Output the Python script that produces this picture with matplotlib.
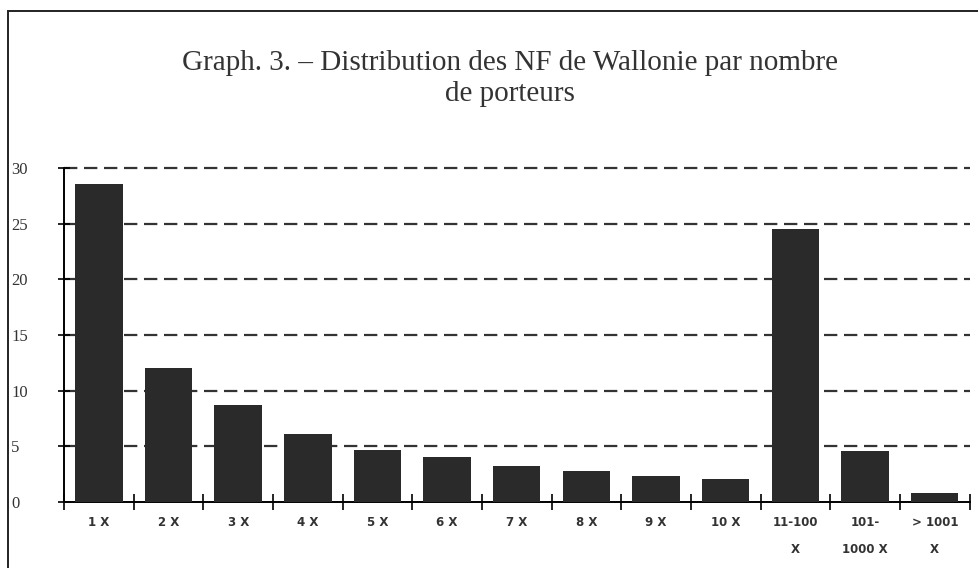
import matplotlib.pyplot as plt
from matplotlib.patches import Rectangle
import numpy as np

# Data
categories = ["1 X", "2 X", "3 X", "4 X", "5 X", "6 X", "7 X", "8 X", "9 X",
              "10 X", "11-100\nX", "101-\n1000 X", "> 1001\nX"]
values = [28.6, 12.0, 8.7, 6.1, 4.7, 4.0, 3.2, 2.8, 2.3, 2.1, 24.5, 4.6, 0.8]
y_ticks = [0, 5, 10, 15, 20, 25, 30]
y_tick_labels = ["0", "5", "10", "15", "20", "25", "30"]

title = "Graph. 3. \u2013 Distribution des NF de Wallonie par nombre\nde porteurs"

fig = plt.figure(figsize=(9.79, 5.68), dpi=100)
ax = fig.add_axes([0.0654, 0.1162, 0.925, 0.588])

# Frame around the whole figure
fig.patches.append(Rectangle((0.008, -0.01), 1.1, 0.99, transform=fig.transFigure,
                             fill=False, edgecolor="#222222", linewidth=1.4))

x = np.arange(len(categories))
ax.bar(x, values, width=0.68, color="#2a2a2a", zorder=3)

# Dashed grid lines
for yt in y_ticks[1:]:
    ax.axhline(yt, color="#333333", linestyle=(0, (6, 3)), linewidth=1.6, zorder=1,
               clip_on=False)

ax.set_xlim(-0.5, len(categories) - 0.5)
ax.set_ylim(0, 30)

ax.set_yticks(y_ticks)
ax.set_yticklabels(y_tick_labels, fontfamily="Liberation Serif", fontsize=12, color="#333333")
ax.tick_params(axis="y", direction="inout", length=8, width=1.2, pad=34)
for lab in ax.get_yticklabels():
    lab.set_horizontalalignment("left")

# Category boundaries as x ticks
ax.set_xticks(np.arange(len(categories) + 1) - 0.5)
ax.set_xticklabels([])
ax.tick_params(axis="x", direction="inout", length=12, width=1.2)
for xi, lab in zip(x, categories):
    ax.text(xi, -1.3, lab, ha="center", va="top", fontsize=8.5, fontweight="bold",
            color="#333333", linespacing=2.4, transform=ax.transData)

for side in ["top", "right"]:
    ax.spines[side].set_visible(False)
ax.spines["left"].set_linewidth(1.4)
ax.spines["bottom"].set_linewidth(1.4)

fig.text(0.521, 0.862, title, ha="center", va="center", fontfamily="Liberation Serif",
         fontsize=21, color="#333333", linespacing=1.25)

plt.savefig("out.png", dpi=100, facecolor="white")
plt.close()
